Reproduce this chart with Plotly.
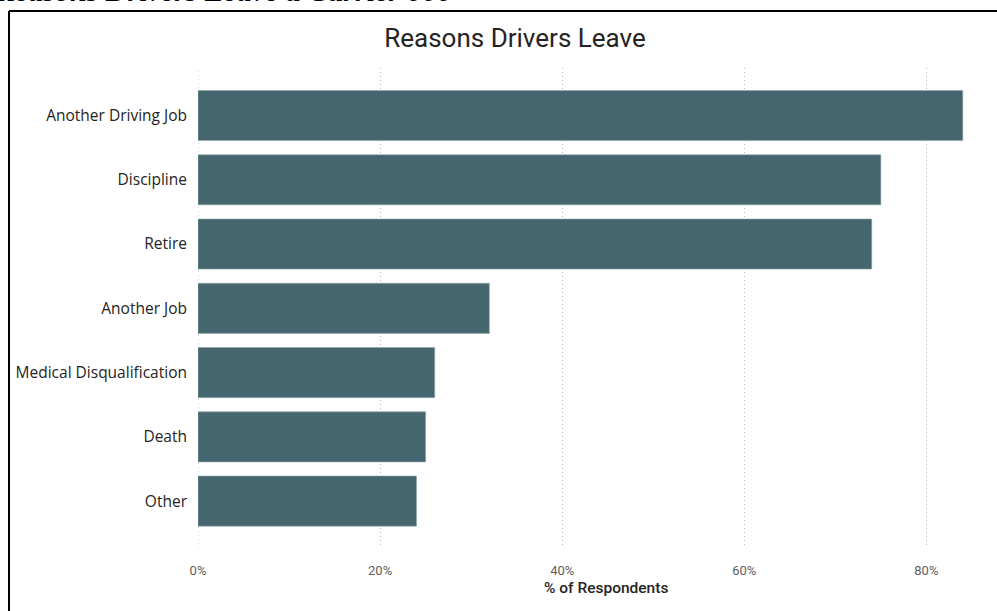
import plotly.graph_objects as go

# Survey results: share of respondents citing each reason
reasons = [
    "Another Driving Job",
    "Discipline",
    "Retire",
    "Another Job",
    "Medical Disqualification",
    "Death",
    "Other",
]
pct_respondents = [84, 75, 74, 32, 26, 25, 24]
x_ticks = [0, 20, 40, 60, 80]
x_tick_text = ["0%", "20%", "40%", "60%", "80%"]

W, H = 997, 611
ML, MR, MT, MB = 198, 16, 68, 63
PW, PH = W - ML - MR, H - MT - MB


def px_x(p):
    return (p - ML) / PW


def px_y(p):
    return 1 - (p - MT) / PH


BAR = "#46666F"
DIN = "Roboto, Liberation Sans, Arial, sans-serif"
GRID = "#b8b8b8"
DOTS = "1px,3px"

fig = go.Figure(
    go.Bar(
        x=pct_respondents,
        y=reasons,
        orientation="h",
        marker=dict(color=BAR, line=dict(color="#8fa7ad", width=0.6)),
        hoverinfo="x+y",
    )
)

fig.update_layout(
    width=W,
    height=H,
    margin=dict(l=ML, r=MR, t=MT, b=MB),
    paper_bgcolor="white",
    plot_bgcolor="white",
    bargap=0.22,
    showlegend=False,
    title=dict(
        text="Reasons Drivers Leave",
        x=515 / W,
        xanchor="center",
        y=1 - 38 / H,
        yanchor="middle",
        font=dict(family=DIN, size=26, color="#252423"),
    ),
    xaxis=dict(
        range=[0, 86.0],
        tickvals=x_ticks,
        ticktext=x_tick_text,
        showgrid=True,
        gridcolor=GRID,
        griddash=DOTS,
        gridwidth=1,
        zeroline=False,
        showline=False,
        ticks="",
        tickfont=dict(family=DIN, size=13, color="#605e5c"),
        ticklabelstandoff=13,
    ),
    yaxis=dict(
        type="category",
        categoryorder="array",
        categoryarray=reasons,
        range=[6.73, -0.74],
        showgrid=False,
        zeroline=False,
        showline=False,
        ticks="",
        ticklabelstandoff=10,
        tickfont=dict(family="Open Sans, Noto Sans, sans-serif", size=15.5, color="#252423"),
    ),
    shapes=[
        # dotted guide at 0%
        dict(type="line", xref="x", yref="paper", x0=0, x1=0, y0=0, y1=1,
             layer="below", line=dict(color=GRID, width=1, dash=DOTS)),
        # frame around the visual (left and top edges)
        dict(type="line", xref="paper", yref="paper",
             x0=px_x(9), x1=px_x(1010), y0=px_y(11), y1=px_y(11),
             line=dict(color="black", width=2)),
        dict(type="line", xref="paper", yref="paper",
             x0=px_x(9), x1=px_x(9), y0=px_y(11), y1=px_y(640),
             line=dict(color="black", width=2)),
    ],
    annotations=[
        # x-axis title
        dict(
            text="% of Respondents",
            xref="paper", yref="paper",
            x=px_x(606), y=px_y(588),
            xanchor="center", yanchor="middle",
            showarrow=False,
            font=dict(family=DIN, size=15.5, color="#252423", weight=500),
        ),
        # caption above the visual
        dict(
            text="<b><i>Reasons Drivers Leave a Carrier 000</i></b>",
            xref="paper", yref="paper",
            x=px_x(-8), y=px_y(9),
            xanchor="left", yanchor="bottom",
            showarrow=False,
            font=dict(family="Liberation Serif, Times New Roman, serif", size=30, color="black"),
        ),
    ],
)

fig.write_html("out.html")
